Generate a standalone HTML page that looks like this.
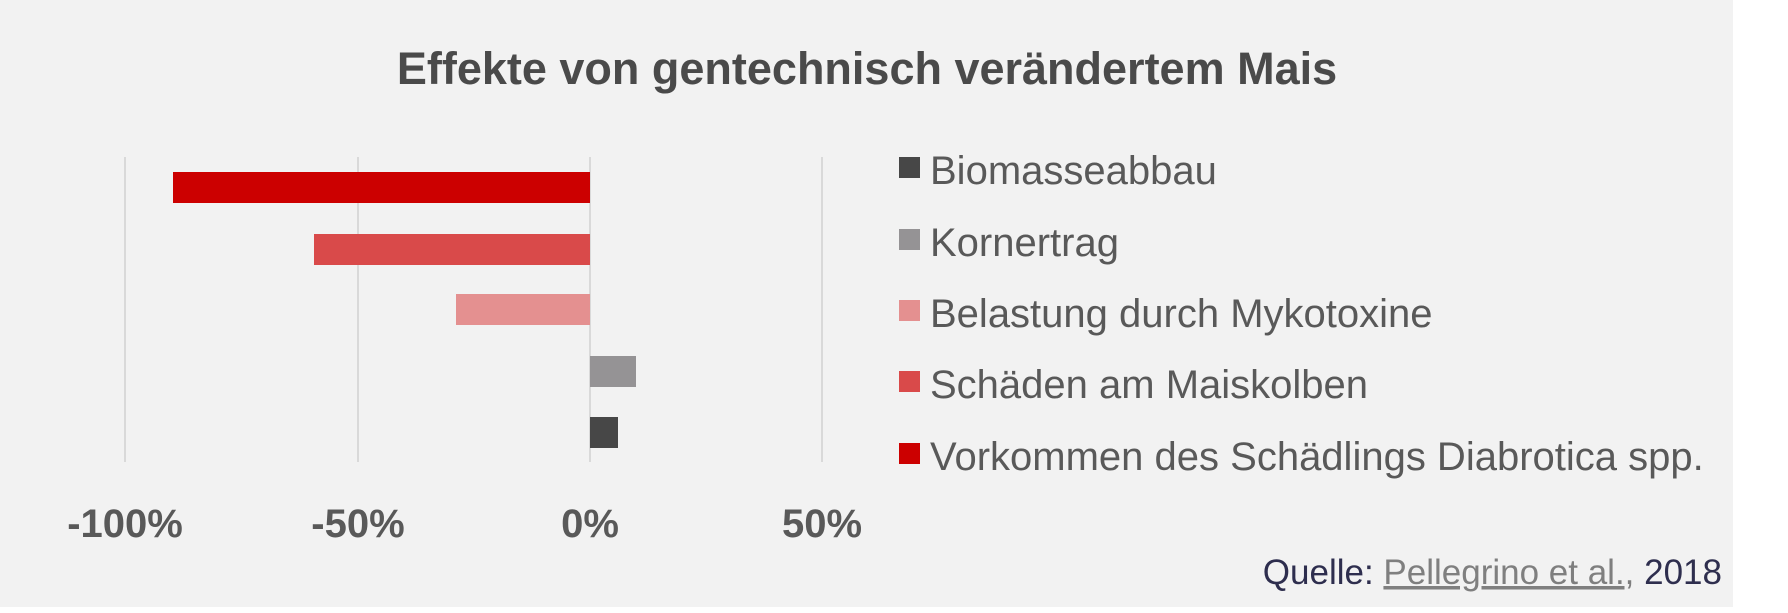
<!DOCTYPE html>
<html><head><meta charset="utf-8"><style>
body{margin:0;width:1788px;height:613px;background:#fff;overflow:hidden;font-family:"Liberation Sans",sans-serif}
#bg{position:absolute;left:0;top:0;width:1733px;height:607px;background:#f2f2f2}
</style></head><body>
<div id="bg"></div>
<svg width="1788" height="613" style="position:absolute;left:0;top:0">
<g stroke="#d9d9d9" stroke-width="2">
<line x1="125" y1="157" x2="125" y2="462"/><line x1="358" y1="157" x2="358" y2="462"/>
<line x1="590" y1="157" x2="590" y2="462"/><line x1="822" y1="157" x2="822" y2="462"/>
</g>
<rect x="173" y="172" width="417" height="31" fill="#cc0000"/>
<rect x="314" y="234" width="276" height="31" fill="#d94a4a"/>
<rect x="456" y="294" width="134" height="31" fill="#e49090"/>
<rect x="590" y="356" width="46" height="31" fill="#959395"/>
<rect x="590" y="417" width="28" height="31" fill="#474747"/>
<rect x="899" y="157" width="21" height="21" fill="#474747"/>
<rect x="899" y="229" width="21" height="21" fill="#959395"/>
<rect x="899" y="300" width="21" height="21" fill="#e49090"/>
<rect x="899" y="371" width="21" height="21" fill="#d94a4a"/>
<rect x="899" y="443" width="21" height="21" fill="#cc0000"/>
<g font-family="Liberation Sans" font-weight="bold" font-size="40" fill="#595959" text-anchor="middle">
<text x="125" y="537">-100%</text><text x="358" y="537">-50%</text><text x="590" y="537">0%</text><text x="822" y="537">50%</text>
</g>
<text x="867" y="84" text-anchor="middle" font-family="Liberation Sans" font-weight="bold" font-size="45" fill="#4a4a4a">Effekte von gentechnisch verändertem Mais</text>
<g font-family="Liberation Sans" font-size="40" fill="#595959">
<text x="930" y="184">Biomasseabbau</text>
<text x="930" y="256">Kornertrag</text>
<text x="930" y="327">Belastung durch Mykotoxine</text>
<text x="930" y="398">Schäden am Maiskolben</text>
<text x="930" y="470">Vorkommen des Schädlings Diabrotica spp.</text>
</g>
<text x="1722" y="584" text-anchor="end" font-family="Liberation Sans" font-size="35" fill="#2e2e4e">Quelle: <tspan fill="#7f7f7f" text-decoration="underline">Pellegrino et al.,</tspan> 2018</text>
</svg>
</body></html>
